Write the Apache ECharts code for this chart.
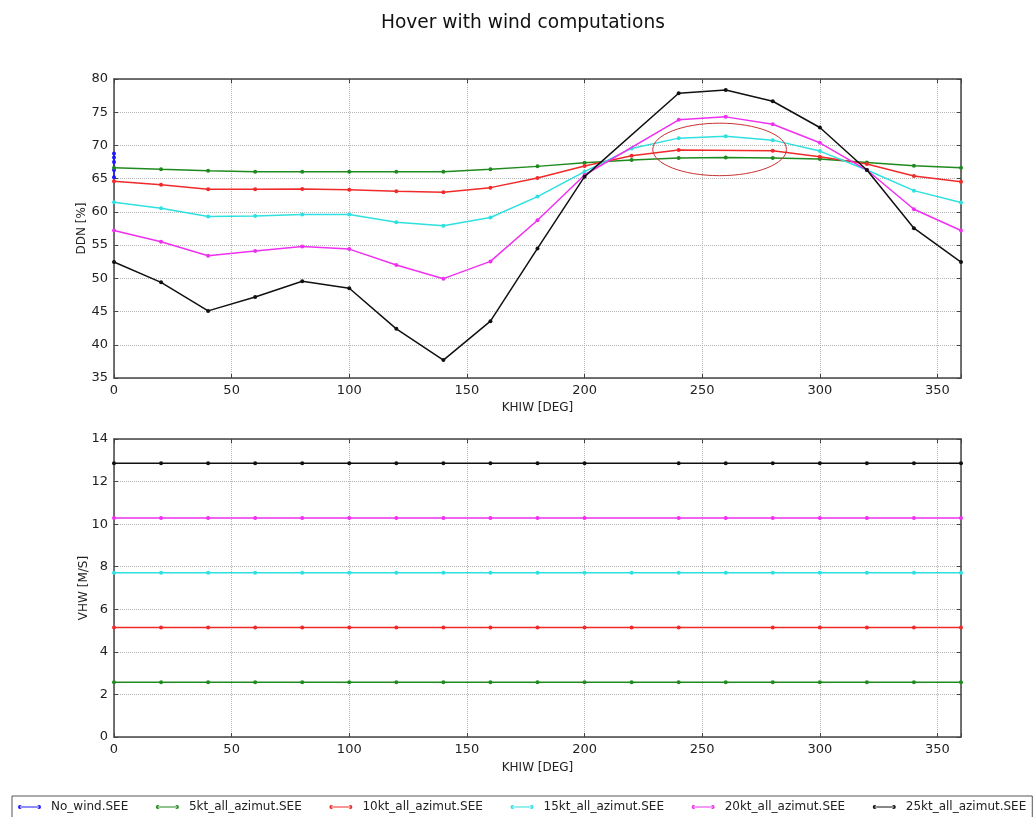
<!DOCTYPE html>
<html>
<head>
<meta charset="utf-8">
<script src="https://cdn.jsdelivr.net/npm/echarts@6/dist/echarts.min.js"></script>
<style>
html,body{margin:0;padding:0;background:#fff;}
#chart{width:1036px;height:817px;}
</style>
</head>
<body>
<div id="chart"></div>
<script>
// ---- data ----
const khiw = [0,20,40,60,80,100,120,140,160,180,200,220,240,260,280,300,320,340,360];
const seriesNames = ['No_wind.SEE','5kt_all_azimut.SEE','10kt_all_azimut.SEE','15kt_all_azimut.SEE','20kt_all_azimut.SEE','25kt_all_azimut.SEE'];

// DDN [%] (top panel)
const noWindKhiw = [0,0,0,0,0];
const noWindDdn  = [68.8,68.2,67.5,66.3,65.2];
const ddn5  = [66.65,66.4,66.2,66.05,66.05,66.05,66.05,66.05,66.4,66.85,67.4,67.8,68.1,68.2,68.1,67.95,67.45,66.95,66.65];
const ddn10 = [64.6,64.1,63.4,63.4,63.45,63.35,63.1,62.95,63.65,65.1,66.9,68.45,69.3,null,69.2,68.3,67.2,65.4,64.55];
const ddn15 = [61.45,60.55,59.3,59.4,59.6,59.6,58.45,57.9,59.15,62.3,66.05,69.55,71.1,71.4,70.8,69.15,66.3,63.2,61.4];
const ddn20 = [57.2,55.5,53.4,54.1,54.8,54.4,52.0,49.95,52.55,58.75,65.55,null,73.85,74.3,73.2,70.4,66.3,60.4,57.2];
const ddn25 = [52.45,49.4,45.1,47.2,49.55,48.5,42.4,37.7,43.55,54.5,65.3,null,77.85,78.35,76.65,72.7,66.3,57.55,52.45];

// VHW [M/S] (bottom panel)
const noWindVhwKhiw = [];
const noWindVhw = [];
const vhw5  = [2.57,2.57,2.57,2.57,2.57,2.57,2.57,2.57,2.57,2.57,2.57,2.57,2.57,2.57,2.57,2.57,2.57,2.57,2.57];
const vhw10 = [5.14,5.14,5.14,5.14,5.14,5.14,5.14,5.14,5.14,5.14,5.14,5.14,5.14,null,5.14,5.14,5.14,5.14,5.14];
const vhw15 = [7.72,7.72,7.72,7.72,7.72,7.72,7.72,7.72,7.72,7.72,7.72,7.72,7.72,7.72,7.72,7.72,7.72,7.72,7.72];
const vhw20 = [10.29,10.29,10.29,10.29,10.29,10.29,10.29,10.29,10.29,10.29,10.29,null,10.29,10.29,10.29,10.29,10.29,10.29,10.29];
const vhw25 = [12.86,12.86,12.86,12.86,12.86,12.86,12.86,12.86,12.86,12.86,12.86,null,12.86,12.86,12.86,12.86,12.86,12.86,12.86];

// annotation ellipse, in data units of the top panel
const ellipseCenter = [257.4, 69.4];
const ellipseHalfAxes = [28.4, 3.95];

// ---- chart ----
const colors = ['#1a1aff','#1f8a1f','#f02a2a','#2fe0e0','#f030f0','#111111'];
const FONT = 'DejaVu Sans';
const pair = (xs, ys) => xs.map((x, i) => [x, ys[i]]);

const chart = echarts.init(document.getElementById('chart'), null, {renderer:'canvas'});

function xAxisFor(grid, name, pos, showLabel) {
  return {
    type:'value', gridIndex:grid, min:0, max:360, interval:50, position:pos,
    name: name, nameLocation:'middle', nameGap:24, nameMoveOverlap:false,
    nameTextStyle:{fontFamily:FONT, fontSize:12, color:'#222'},
    axisLine:{show:true, onZero:false, lineStyle:{color:'#444', width:1.5}},
    axisTick:{show:true, inside:true, length:4, lineStyle:{color:'#444'}},
    axisLabel:{show:showLabel, fontFamily:FONT, fontSize:13, color:'#222', margin:6,
      formatter: v => (v % 50 === 0 ? String(v) : '')},
    splitLine:{show:showLabel, lineStyle:{color:'#b4b4b4', type:'dotted', width:1}}
  };
}
function yAxisFor(grid, name, min, max, interval, pos, showLabel, gap) {
  return {
    type:'value', gridIndex:grid, min:min, max:max, interval:interval, position:pos,
    name: name, nameLocation:'middle', nameGap:gap, nameMoveOverlap:false,
    nameTextStyle:{fontFamily:FONT, fontSize:12, color:'#222'},
    axisLine:{show:true, onZero:false, lineStyle:{color:'#444', width:1.5}},
    axisTick:{show:true, inside:true, length:4, lineStyle:{color:'#444'}},
    axisLabel:{show:showLabel, fontFamily:FONT, fontSize:13, color:'#222', margin:6},
    splitLine:{show:showLabel, lineStyle:{color:'#b4b4b4', type:'dotted', width:1}}
  };
}

function lineSeries(name, idx, x, y, data) {
  return {
    name: name, type:'line', xAxisIndex:x, yAxisIndex:y, data: data,
    connectNulls:true, symbol:'circle', symbolSize:4, showSymbol:true,
    lineStyle:{color:colors[idx], width:1.5},
    itemStyle:{color:colors[idx]},
    animation:false, z: 2 + idx
  };
}

const topSets = [pair(noWindKhiw, noWindDdn), pair(khiw, ddn5), pair(khiw, ddn10), pair(khiw, ddn15), pair(khiw, ddn20), pair(khiw, ddn25)];
const botSets = [pair(noWindVhwKhiw, noWindVhw), pair(khiw, vhw5), pair(khiw, vhw10), pair(khiw, vhw15), pair(khiw, vhw20), pair(khiw, vhw25)];

const series = [];
seriesNames.forEach((n, i) => series.push(lineSeries(n, i, 0, 0, topSets[i])));
seriesNames.forEach((n, i) => series.push(lineSeries(n, i, 2, 2, botSets[i])));

const legendIcon = 'path://M0,3a2,2 0 1,0 4,0a2,2 0 1,0 -4,0z M2,2.5h20v1h-20z M20,3a2,2 0 1,0 4,0a2,2 0 1,0 -4,0z';

chart.setOption({
  backgroundColor:'#ffffff',
  animation:false,
  title:{text:'Hover with wind computations', left:376, top:9,
    textStyle:{fontFamily:FONT, fontSize:18.6, fontWeight:'normal', color:'#111'}},
  legend:{
    data: seriesNames, left:12, top:796, icon: legendIcon, itemWidth:23, itemHeight:4,
    itemGap:27.6, padding:[5,6,5,6], borderColor:'#555', borderWidth:1,
    textStyle:{fontFamily:FONT, fontSize:12, color:'#222', padding:[0,0,0,5]}
  },
  grid:[
    {left:114, top:79, width:847, height:299, containLabel:false},
    {left:114, top:439, width:847, height:298, containLabel:false}
  ],
  xAxis:[
    xAxisFor(0, 'KHIW [DEG]', 'bottom', true),
    Object.assign(xAxisFor(0, '', 'top', false), {name:''}),
    Object.assign(xAxisFor(1, 'KHIW [DEG]', 'bottom', true), {nameGap:25}),
    Object.assign(xAxisFor(1, '', 'top', false), {name:''})
  ],
  yAxis:[
    yAxisFor(0, 'DDN [%]', 35, 80, 5, 'left', true, 26),
    Object.assign(yAxisFor(0, '', 35, 80, 5, 'right', false, 20), {name:''}),
    yAxisFor(1, 'VHW [M/S]', 0, 14, 2, 'left', true, 24),
    Object.assign(yAxisFor(1, '', 0, 14, 2, 'right', false, 20), {name:''})
  ],
  series: series
});

// red annotation ellipse placed through the top panel's scales
const c = chart.convertToPixel({xAxisIndex:0, yAxisIndex:0}, ellipseCenter);
const e = chart.convertToPixel({xAxisIndex:0, yAxisIndex:0}, [ellipseCenter[0] + ellipseHalfAxes[0], ellipseCenter[1] + ellipseHalfAxes[1]]);
chart.setOption({
  graphic:[{
    type:'ellipse', shape:{cx:c[0], cy:c[1], rx:Math.abs(e[0]-c[0]), ry:Math.abs(e[1]-c[1])},
    style:{fill:'none', stroke:'#c83232', lineWidth:1}, z:100, silent:true
  }]
});
</script>
</body>
</html>
